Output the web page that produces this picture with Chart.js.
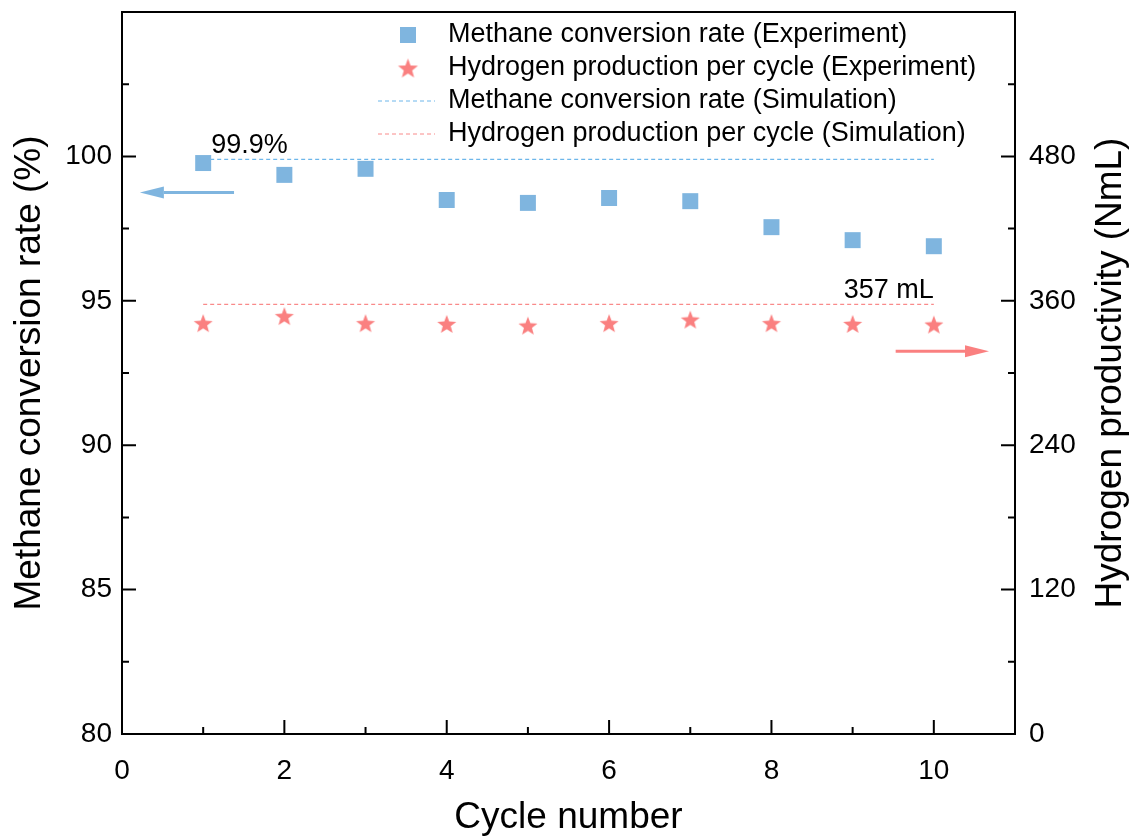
<!DOCTYPE html>
<html>
<head>
<meta charset="utf-8">
<script src="https://cdn.jsdelivr.net/npm/chart.js@4"></script>
<style>
  html, body { margin: 0; padding: 0; background: #fff; }
  #wrap { width: 1132px; height: 839px; }
</style>
</head>
<body>
<div id="wrap"><canvas id="chart" width="1132" height="839"></canvas></div>
<script>
// data
const cycles = [1, 2, 3, 4, 5, 6, 7, 8, 9, 10];
const methaneExp = [99.77, 99.36, 99.57, 98.49, 98.39, 98.56, 98.45, 97.55, 97.10, 96.89];
const hydrogenExp = [341.4, 347.3, 341.4, 340.8, 339.4, 341.4, 344.4, 341.4, 340.8, 340.3];
const simCycles = [1, 10];
const methaneSim = [99.9, 99.9];
const hydrogenSim = [357, 357];

const xTicks = [0, 2, 4, 6, 8, 10];
const xMinor = [1, 3, 5, 7, 9];
const yTicks = [80, 85, 90, 95, 100];
const yMinor = [82.5, 87.5, 92.5, 97.5, 102.5];
const y2Ticks = [0, 120, 240, 360, 480];
const y2Minor = [60, 180, 300, 420, 540];

// arrows in data units: [fromX, toX, y, axis, colour]
const arrows = [
  [1.38, 0.22, 98.75, "y", "#7fb5df"],
  [9.53, 10.68, 318, "y2", "#fa8080"],
];

const FONT = "'Liberation Sans', Arial, sans-serif";
const blue = "#7fb5df";
const red = "#fa8080";
const simBlue = "#6db6ea";
const simRed = "#f98a8a";

function makeStar(r, color) {
  const c = document.createElement("canvas");
  c.width = c.height = Math.ceil(r * 2 + 2);
  const g = c.getContext("2d");
  const cx = c.width / 2, cy = c.height / 2 + r * 0.1;
  g.beginPath();
  for (let i = 0; i < 10; i++) {
    const rad = i % 2 === 0 ? r : r * 0.42;
    const a = -Math.PI / 2 + i * Math.PI / 5;
    g.lineTo(cx + rad * Math.cos(a), cy + rad * Math.sin(a));
  }
  g.closePath();
  g.fillStyle = color;
  g.fill();
  return c;
}
const starImg = makeStar(10, red);
const starLegend = makeStar(10.5, red);

const pts = (xs, ys) => xs.map((x, i) => ({ x: x, y: ys[i] }));

const decor = {
  id: "decor",
  afterDraw(chart) {
    const ctx = chart.ctx;
    const a = chart.chartArea;
    const sx = chart.scales.x, sy = chart.scales.y, sy2 = chart.scales.y2;
    ctx.save();
    // frame
    ctx.strokeStyle = "#000";
    ctx.lineWidth = 2;
    ctx.strokeRect(a.left, a.top, a.right - a.left, a.bottom - a.top);
    // inward ticks
    ctx.beginPath();
    const tick = (x1, y1, x2, y2) => { ctx.moveTo(x1, y1); ctx.lineTo(x2, y2); };
    xTicks.forEach(v => { const p = sx.getPixelForValue(v); tick(p, a.bottom, p, a.bottom - 14); });
    xMinor.forEach(v => { const p = sx.getPixelForValue(v); tick(p, a.bottom, p, a.bottom - 7); });
    yTicks.forEach(v => { const p = sy.getPixelForValue(v); tick(a.left, p, a.left + 14, p); });
    yMinor.forEach(v => { const p = sy.getPixelForValue(v); tick(a.left, p, a.left + 7, p); });
    y2Ticks.forEach(v => { const p = sy2.getPixelForValue(v); tick(a.right, p, a.right - 14, p); });
    y2Minor.forEach(v => { const p = sy2.getPixelForValue(v); tick(a.right, p, a.right - 7, p); });
    ctx.stroke();

    // arrows
    arrows.forEach(([x0, x1, v, ax, col]) => {
      const py = chart.scales[ax].getPixelForValue(v);
      const p0 = sx.getPixelForValue(x0), p1 = sx.getPixelForValue(x1);
      const dir = Math.sign(p1 - p0);
      const head = 24;
      ctx.strokeStyle = col;
      ctx.fillStyle = col;
      ctx.lineWidth = 3;
      ctx.beginPath();
      ctx.moveTo(p0, py);
      ctx.lineTo(p1 - dir * head, py);
      ctx.stroke();
      ctx.beginPath();
      ctx.moveTo(p1, py);
      ctx.lineTo(p1 - dir * head, py - 6);
      ctx.lineTo(p1 - dir * head, py + 6);
      ctx.closePath();
      ctx.fill();
    });

    // annotations
    ctx.fillStyle = "#000";
    ctx.font = "27px " + FONT;
    ctx.textBaseline = "alphabetic";
    ctx.textAlign = "left";
    ctx.fillText("99.9%", sx.getPixelForValue(1.1), sy.getPixelForValue(methaneSim[0]) - 6);
    ctx.textAlign = "right";
    ctx.fillText("357 mL", sx.getPixelForValue(10), sy2.getPixelForValue(hydrogenSim[0]) - 6);

    // legend
    const ds = chart.data.datasets;
    const lx = 408, tx = 448, rows = [35, 68, 101, 134];
    ctx.textAlign = "left";
    ctx.textBaseline = "middle";
    ctx.font = "27px " + FONT;
    rows.forEach((ry, i) => {
      if (i === 0) {
        ctx.fillStyle = blue;
        ctx.fillRect(lx - 8, ry - 8, 16, 16);
      } else if (i === 1) {
        ctx.drawImage(starLegend, lx - starLegend.width / 2, ry - starLegend.height / 2);
      } else {
        ctx.strokeStyle = i === 2 ? simBlue : simRed;
        ctx.lineWidth = 1;
        ctx.setLineDash([4, 3]);
        ctx.beginPath();
        ctx.moveTo(378, ry);
        ctx.lineTo(435, ry);
        ctx.stroke();
        ctx.setLineDash([]);
      }
      ctx.fillStyle = "#000";
      ctx.fillText(ds[i].label, tx, ry);
    });

    // axis titles
    ctx.font = "37px " + FONT;
    ctx.textAlign = "center";
    ctx.textBaseline = "middle";
    const cy = (a.top + a.bottom) / 2;
    ctx.fillText("Cycle number", (a.left + a.right) / 2, 818);
    ctx.save();
    ctx.translate(30, cy);
    ctx.rotate(-Math.PI / 2);
    ctx.fillText("Methane conversion rate (%)", 0, 0);
    ctx.restore();
    ctx.save();
    ctx.translate(1111, cy);
    ctx.rotate(-Math.PI / 2);
    ctx.fillText("Hydrogen productivity (NmL)", 0, 0);
    ctx.restore();
    ctx.restore();
  }
};

const noPadV = s => { s.paddingTop = 0; s.paddingBottom = 0; };

new Chart(document.getElementById("chart"), {
  type: "scatter",
  data: {
    datasets: [
      {
        label: "Methane conversion rate (Experiment)",
        data: pts(cycles, methaneExp),
        yAxisID: "y",
        pointStyle: "rect",
        pointRadius: 11.3,
        backgroundColor: blue,
        borderWidth: 0,
      },
      {
        label: "Hydrogen production per cycle (Experiment)",
        data: pts(cycles, hydrogenExp),
        yAxisID: "y2",
        pointStyle: starImg,
        pointRadius: 10,
      },
      {
        label: "Methane conversion rate (Simulation)",
        type: "line",
        data: pts(simCycles, methaneSim),
        yAxisID: "y",
        borderColor: simBlue,
        borderWidth: 1.2,
        borderDash: [4, 3],
        pointRadius: 0,
        fill: false,
      },
      {
        label: "Hydrogen production per cycle (Simulation)",
        type: "line",
        data: pts(simCycles, hydrogenSim),
        yAxisID: "y2",
        borderColor: simRed,
        borderWidth: 1.2,
        borderDash: [4, 3],
        pointRadius: 0,
        fill: false,
      },
    ],
  },
  options: {
    responsive: false,
    animation: false,
    layout: { padding: { top: 12, left: 0, right: 0, bottom: 0 } },
    plugins: { legend: { display: false }, tooltip: { enabled: false } },
    scales: {
      x: {
        type: "linear",
        min: 0,
        max: 11,
        afterFit: s => { s.height = 105; s.paddingLeft = 0; s.paddingRight = 0; },
        afterBuildTicks: s => { s.ticks = xTicks.map(v => ({ value: v })); },
        grid: { display: false, drawTicks: false },
        border: { display: true, color: "#000", width: 2 },
        ticks: { color: "#000", font: { size: 28, family: FONT }, padding: 20, maxRotation: 0 },
      },
      y: {
        position: "left",
        min: 80,
        max: 105,
        afterFit: s => { s.width = 122; noPadV(s); },
        afterBuildTicks: s => { s.ticks = yTicks.map(v => ({ value: v })); },
        grid: { display: false, drawTicks: false },
        border: { display: true, color: "#000", width: 2 },
        ticks: { color: "#000", font: { size: 28, family: FONT }, padding: 10 },
      },
      y2: {
        position: "right",
        min: 0,
        max: 600,
        afterFit: s => { s.width = 117; noPadV(s); },
        afterBuildTicks: s => { s.ticks = y2Ticks.map(v => ({ value: v })); },
        grid: { display: false, drawTicks: false },
        border: { display: true, color: "#000", width: 2 },
        ticks: { color: "#000", font: { size: 28, family: FONT }, padding: 14 },
      },
    },
  },
  plugins: [decor],
});
</script>
</body>
</html>
